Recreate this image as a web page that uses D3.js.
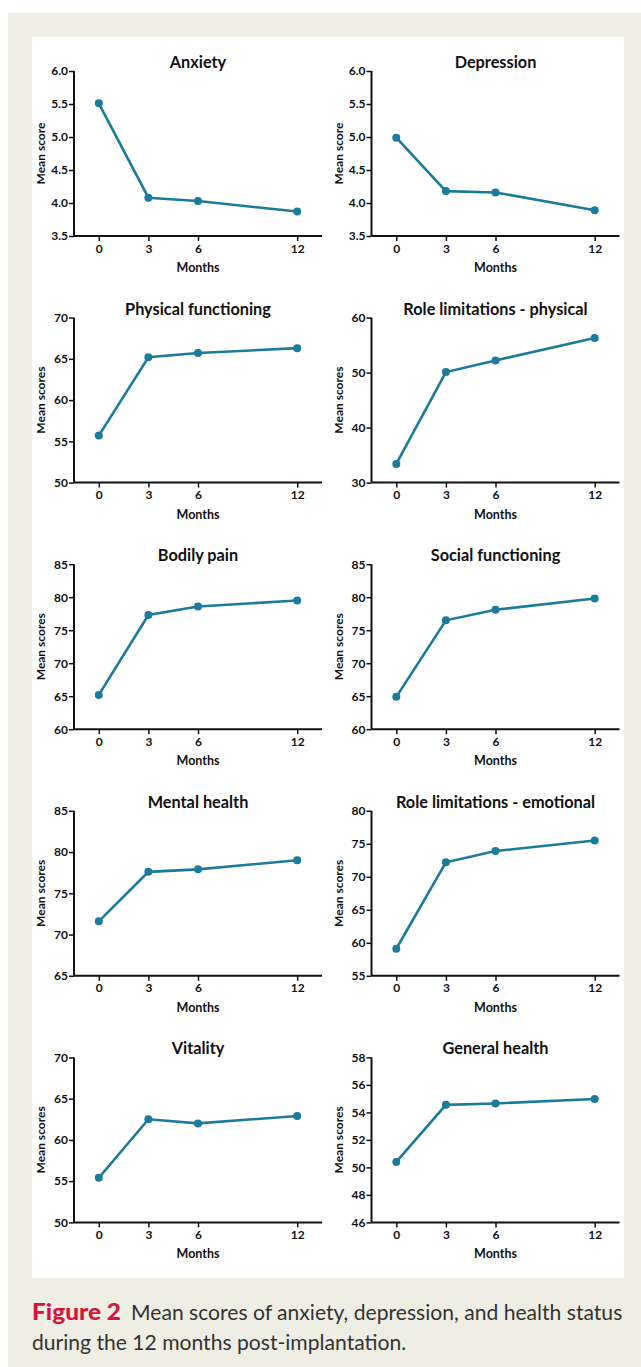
<!DOCTYPE html>
<html>
<head>
<meta charset="utf-8">
<script src="https://cdn.jsdelivr.net/npm/d3@7/dist/d3.min.js"></script>
<style>
  body { margin: 0; background: #fff; }
  text { font-family: Lato, "Open Sans", sans-serif; }
</style>
</head>
<body>
<script>
// months of follow-up
var months = [0, 3, 6, 12];

// panel titles, in reading order
var titles = [
  "Anxiety", "Depression",
  "Physical functioning", "Role limitations - physical",
  "Bodily pain", "Social functioning",
  "Mental health", "Role limitations - emotional",
  "Vitality", "General health"
];

// mean scores at 0, 3, 6, 12 months
var anxiety = [5.51, 4.08, 4.03, 3.87];
var depression = [4.99, 4.18, 4.16, 3.89];
var physicalFunctioning = [55.7, 65.2, 65.7, 66.3];
var rolePhysical = [33.4, 50.1, 52.2, 56.3];
var bodilyPain = [65.2, 77.3, 78.6, 79.5];
var socialFunctioning = [64.9, 76.5, 78.1, 79.8];
var mentalHealth = [71.6, 77.6, 77.9, 79.0];
var roleEmotional = [59.1, 72.2, 73.9, 75.5];
var vitality = [55.4, 62.5, 62.0, 62.9];
var generalHealth = [50.4, 54.55, 54.65, 54.98];

// y tick labels per panel
var ticksAnxiety = [3.5, 4.0, 4.5, 5.0, 5.5, 6.0];
var ticksDepression = [3.5, 4.0, 4.5, 5.0, 5.5, 6.0];
var ticksPhysical = [50, 55, 60, 65, 70];
var ticksRolePhysical = [30, 40, 50, 60];
var ticksBodily = [60, 65, 70, 75, 80, 85];
var ticksSocial = [60, 65, 70, 75, 80, 85];
var ticksMental = [65, 70, 75, 80, 85];
var ticksRoleEmotional = [55, 60, 65, 70, 75, 80];
var ticksVitality = [50, 55, 60, 65, 70];
var ticksGeneral = [46, 48, 50, 52, 54, 56, 58];

var yLabels = ["Mean score", "Mean score", "Mean scores", "Mean scores", "Mean scores",
  "Mean scores", "Mean scores", "Mean scores", "Mean scores", "Mean scores"];

var panels = [
  [anxiety, ticksAnxiety, ".1f"],
  [depression, ticksDepression, ".1f"],
  [physicalFunctioning, ticksPhysical, "d"],
  [rolePhysical, ticksRolePhysical, "d"],
  [bodilyPain, ticksBodily, "d"],
  [socialFunctioning, ticksSocial, "d"],
  [mentalHealth, ticksMental, "d"],
  [roleEmotional, ticksRoleEmotional, "d"],
  [vitality, ticksVitality, "d"],
  [generalHealth, ticksGeneral, "d"]
].map(function (p, i) {
  return { title: titles[i], values: p[0], ticks: p[1], fmt: p[2], ylab: yLabels[i] };
});

const width = 641, height = 1367;
const lineColor = "#1c7b9b";

var svg = d3.select("body").append("svg")
  .attr("width", width)
  .attr("height", height);

svg.append("rect").attr("x", 8).attr("y", 13)
  .attr("width", width - 8).attr("height", height - 13)
  .attr("fill", "#efeee5");
svg.append("rect").attr("x", 32).attr("y", 37)
  .attr("width", 592).attr("height", 1241)
  .attr("fill", "#fff");

var plotW = 248, plotH = 165;
var colX = [74, 371.5];

var x = d3.scaleLinear().domain([-1.5, 13.5]).range([0, plotW]);

panels.forEach(function (p, i) {
  var ox = colX[i % 2];
  var oy = 71 + Math.floor(i / 2) * 246.6;
  var g = svg.append("g").attr("transform", "translate(" + ox + "," + oy + ")");

  var y = d3.scaleLinear().domain(d3.extent(p.ticks)).range([plotH, 0]);

  var yAxis = g.append("g")
    .call(d3.axisLeft(y).tickValues(p.ticks).tickFormat(d3.format(p.fmt)).tickSize(5).tickPadding(1));
  var xAxis = g.append("g").attr("transform", "translate(0," + plotH + ")")
    .call(d3.axisBottom(x).tickValues(months).tickSize(5).tickPadding(3));

  [yAxis, xAxis].forEach(function (a) {
    a.select(".domain").attr("stroke", "#111").attr("stroke-width", 2);
    a.selectAll(".tick line").attr("stroke", "#111").attr("stroke-width", 1.5);
    a.selectAll(".tick text")
      .attr("fill", "#111")
      .style("font-family", "Lato, sans-serif")
      .style("font-size", "12px")
      .style("font-weight", "bold");
  });
  xAxis.select(".domain").attr("d", "M0,0H" + plotW);
  yAxis.select(".domain").attr("d", "M0,0V" + plotH);

  g.append("text")
    .attr("x", plotW / 2)
    .attr("y", -3)
    .attr("text-anchor", "middle")
    .style("font-size", "16.3px")
    .style("font-weight", "bold")
    .attr("fill", "#111")
    .text(p.title);

  g.append("text")
    .attr("x", x(6))
    .attr("y", plotH + 36)
    .attr("text-anchor", "middle")
    .style("font-size", "12.5px")
    .style("font-weight", "bold")
    .attr("fill", "#111")
    .text("Months");

  g.append("text")
    .attr("transform", "translate(-29," + (plotH / 2) + ") rotate(-90)")
    .attr("text-anchor", "middle")
    .style("font-size", "12px")
    .style("font-weight", "bold")
    .attr("fill", "#111")
    .text(p.ylab);

  var line = d3.line()
    .x(function (d, j) { return x(months[j]); })
    .y(function (d) { return y(d); });

  g.append("path")
    .datum(p.values)
    .attr("d", line)
    .attr("fill", "none")
    .attr("stroke", lineColor)
    .attr("stroke-width", 2.6);

  g.selectAll("circle")
    .data(p.values)
    .enter()
    .append("circle")
    .attr("cx", function (d, j) { return x(months[j]); })
    .attr("cy", function (d) { return y(d); })
    .attr("r", 4)
    .attr("fill", lineColor);
});

// caption
var cap1 = svg.append("text").attr("x", 32).attr("y", 1320)
  .style("font-size", "21.1px").attr("fill", "#333");
cap1.append("tspan").attr("fill", "#d4163e")
  .style("font-weight", "900").style("font-size", "22px")
  .attr("textLength", 89).attr("lengthAdjust", "spacingAndGlyphs")
  .text("Figure 2");
cap1.append("tspan").attr("dx", 10).text("Mean scores of anxiety, depression, and health status");

svg.append("text").attr("x", 32).attr("y", 1350)
  .style("font-size", "21.1px").attr("fill", "#333")
  .text("during the 12 months post-implantation.");
</script>
</body>
</html>
